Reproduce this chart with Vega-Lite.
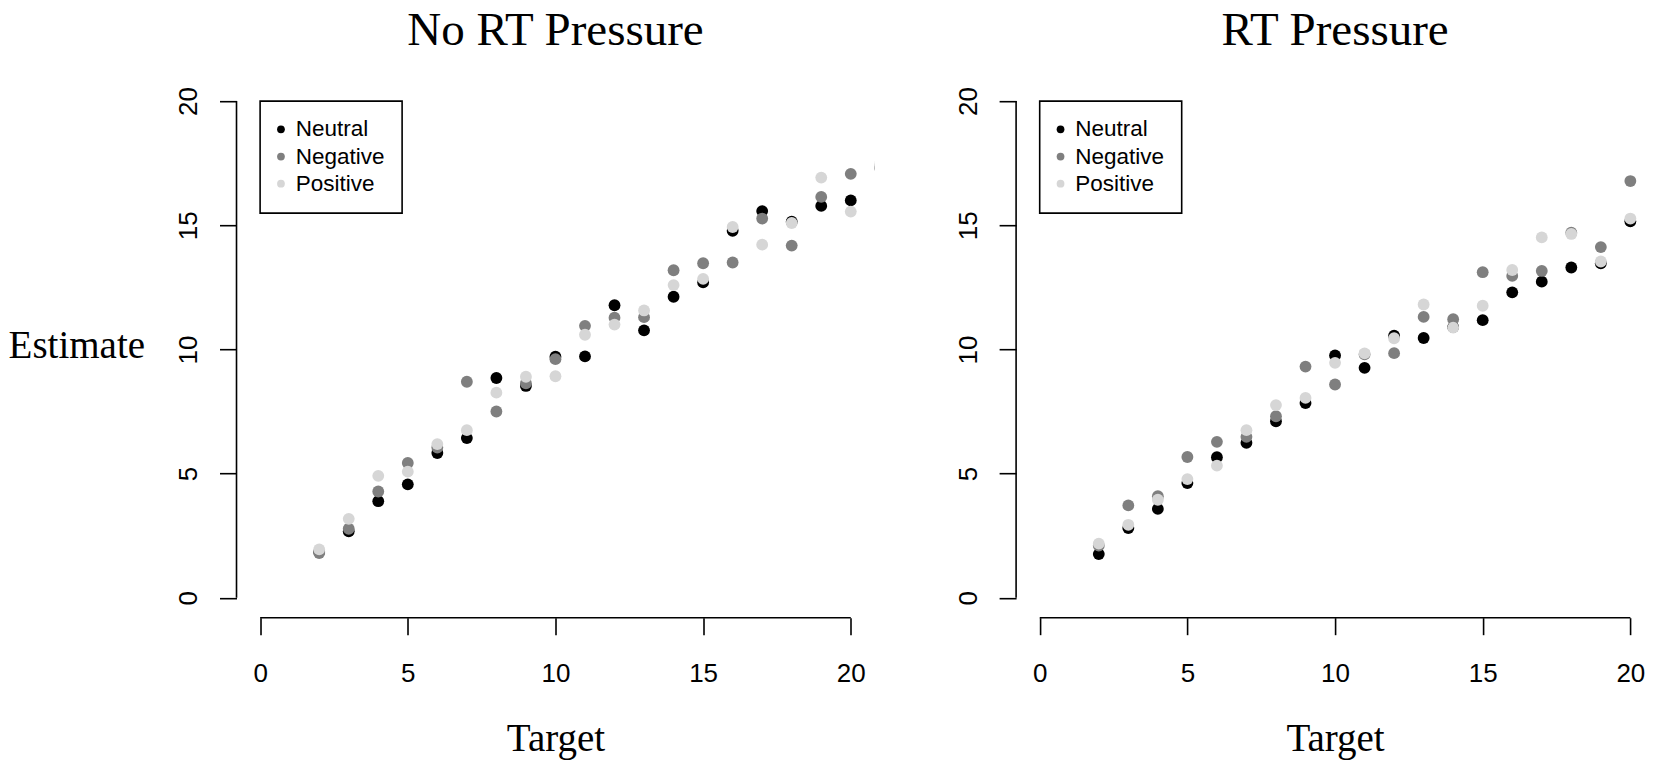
{
  "$schema": "https://vega.github.io/schema/vega-lite/v6.json",
  "padding": {"left": 7.5, "top": 6.2, "right": 0, "bottom": 2},
  "background": "white",
  "bounds": "flush",
  "spacing": 141.6,
  "datasets": {
    "pts": [
      {"panel":"No RT Pressure","cond":"Neutral","target":2,"estimate":1.85},
      {"panel":"No RT Pressure","cond":"Neutral","target":3,"estimate":2.68},
      {"panel":"No RT Pressure","cond":"Neutral","target":4,"estimate":3.89},
      {"panel":"No RT Pressure","cond":"Neutral","target":5,"estimate":4.57},
      {"panel":"No RT Pressure","cond":"Neutral","target":6,"estimate":5.83},
      {"panel":"No RT Pressure","cond":"Neutral","target":7,"estimate":6.43},
      {"panel":"No RT Pressure","cond":"Neutral","target":8,"estimate":8.85},
      {"panel":"No RT Pressure","cond":"Neutral","target":9,"estimate":8.53},
      {"panel":"No RT Pressure","cond":"Neutral","target":10,"estimate":9.71},
      {"panel":"No RT Pressure","cond":"Neutral","target":11,"estimate":9.72},
      {"panel":"No RT Pressure","cond":"Neutral","target":12,"estimate":11.78},
      {"panel":"No RT Pressure","cond":"Neutral","target":13,"estimate":10.77},
      {"panel":"No RT Pressure","cond":"Neutral","target":14,"estimate":12.12},
      {"panel":"No RT Pressure","cond":"Neutral","target":15,"estimate":12.7},
      {"panel":"No RT Pressure","cond":"Neutral","target":16,"estimate":14.78},
      {"panel":"No RT Pressure","cond":"Neutral","target":17,"estimate":15.57},
      {"panel":"No RT Pressure","cond":"Neutral","target":18,"estimate":15.14},
      {"panel":"No RT Pressure","cond":"Neutral","target":19,"estimate":15.78},
      {"panel":"No RT Pressure","cond":"Neutral","target":20,"estimate":16.0},
      {"panel":"No RT Pressure","cond":"Neutral","target":21,"estimate":17.3},
      {"panel":"No RT Pressure","cond":"Negative","target":2,"estimate":1.8},
      {"panel":"No RT Pressure","cond":"Negative","target":3,"estimate":2.78},
      {"panel":"No RT Pressure","cond":"Negative","target":4,"estimate":4.28},
      {"panel":"No RT Pressure","cond":"Negative","target":5,"estimate":5.43},
      {"panel":"No RT Pressure","cond":"Negative","target":6,"estimate":6.05},
      {"panel":"No RT Pressure","cond":"Negative","target":7,"estimate":8.7},
      {"panel":"No RT Pressure","cond":"Negative","target":8,"estimate":7.5},
      {"panel":"No RT Pressure","cond":"Negative","target":9,"estimate":8.64},
      {"panel":"No RT Pressure","cond":"Negative","target":10,"estimate":9.61},
      {"panel":"No RT Pressure","cond":"Negative","target":11,"estimate":10.95},
      {"panel":"No RT Pressure","cond":"Negative","target":12,"estimate":11.28},
      {"panel":"No RT Pressure","cond":"Negative","target":13,"estimate":11.3},
      {"panel":"No RT Pressure","cond":"Negative","target":14,"estimate":13.19},
      {"panel":"No RT Pressure","cond":"Negative","target":15,"estimate":13.47},
      {"panel":"No RT Pressure","cond":"Negative","target":16,"estimate":13.5},
      {"panel":"No RT Pressure","cond":"Negative","target":17,"estimate":15.27},
      {"panel":"No RT Pressure","cond":"Negative","target":18,"estimate":14.18},
      {"panel":"No RT Pressure","cond":"Negative","target":19,"estimate":16.14},
      {"panel":"No RT Pressure","cond":"Negative","target":20,"estimate":17.07},
      {"panel":"No RT Pressure","cond":"Negative","target":21,"estimate":17.4},
      {"panel":"No RT Pressure","cond":"Positive","target":2,"estimate":1.95},
      {"panel":"No RT Pressure","cond":"Positive","target":3,"estimate":3.18},
      {"panel":"No RT Pressure","cond":"Positive","target":4,"estimate":4.91},
      {"panel":"No RT Pressure","cond":"Positive","target":5,"estimate":5.08},
      {"panel":"No RT Pressure","cond":"Positive","target":6,"estimate":6.19},
      {"panel":"No RT Pressure","cond":"Positive","target":7,"estimate":6.75},
      {"panel":"No RT Pressure","cond":"Positive","target":8,"estimate":8.26},
      {"panel":"No RT Pressure","cond":"Positive","target":9,"estimate":8.9},
      {"panel":"No RT Pressure","cond":"Positive","target":10,"estimate":8.92},
      {"panel":"No RT Pressure","cond":"Positive","target":11,"estimate":10.59},
      {"panel":"No RT Pressure","cond":"Positive","target":12,"estimate":11.0},
      {"panel":"No RT Pressure","cond":"Positive","target":13,"estimate":11.57},
      {"panel":"No RT Pressure","cond":"Positive","target":14,"estimate":12.59},
      {"panel":"No RT Pressure","cond":"Positive","target":15,"estimate":12.84},
      {"panel":"No RT Pressure","cond":"Positive","target":16,"estimate":14.93},
      {"panel":"No RT Pressure","cond":"Positive","target":17,"estimate":14.22},
      {"panel":"No RT Pressure","cond":"Positive","target":18,"estimate":15.09},
      {"panel":"No RT Pressure","cond":"Positive","target":19,"estimate":16.92},
      {"panel":"No RT Pressure","cond":"Positive","target":20,"estimate":15.55},
      {"panel":"No RT Pressure","cond":"Positive","target":21,"estimate":17.5},
      {"panel":"RT Pressure","cond":"Neutral","target":2,"estimate":1.76},
      {"panel":"RT Pressure","cond":"Neutral","target":3,"estimate":2.81},
      {"panel":"RT Pressure","cond":"Neutral","target":4,"estimate":3.58},
      {"panel":"RT Pressure","cond":"Neutral","target":5,"estimate":4.62},
      {"panel":"RT Pressure","cond":"Neutral","target":6,"estimate":5.66},
      {"panel":"RT Pressure","cond":"Neutral","target":7,"estimate":6.24},
      {"panel":"RT Pressure","cond":"Neutral","target":8,"estimate":7.11},
      {"panel":"RT Pressure","cond":"Neutral","target":9,"estimate":7.84},
      {"panel":"RT Pressure","cond":"Neutral","target":10,"estimate":9.76},
      {"panel":"RT Pressure","cond":"Neutral","target":11,"estimate":9.26},
      {"panel":"RT Pressure","cond":"Neutral","target":12,"estimate":10.55},
      {"panel":"RT Pressure","cond":"Neutral","target":13,"estimate":10.46},
      {"panel":"RT Pressure","cond":"Neutral","target":14,"estimate":10.9},
      {"panel":"RT Pressure","cond":"Neutral","target":15,"estimate":11.18},
      {"panel":"RT Pressure","cond":"Neutral","target":16,"estimate":12.3},
      {"panel":"RT Pressure","cond":"Neutral","target":17,"estimate":12.73},
      {"panel":"RT Pressure","cond":"Neutral","target":18,"estimate":13.3},
      {"panel":"RT Pressure","cond":"Neutral","target":19,"estimate":13.47},
      {"panel":"RT Pressure","cond":"Neutral","target":20,"estimate":15.16},
      {"panel":"RT Pressure","cond":"Neutral","target":21,"estimate":15.0},
      {"panel":"RT Pressure","cond":"Negative","target":2,"estimate":2.1},
      {"panel":"RT Pressure","cond":"Negative","target":3,"estimate":3.72},
      {"panel":"RT Pressure","cond":"Negative","target":4,"estimate":4.09},
      {"panel":"RT Pressure","cond":"Negative","target":5,"estimate":5.67},
      {"panel":"RT Pressure","cond":"Negative","target":6,"estimate":6.28},
      {"panel":"RT Pressure","cond":"Negative","target":7,"estimate":6.48},
      {"panel":"RT Pressure","cond":"Negative","target":8,"estimate":7.31},
      {"panel":"RT Pressure","cond":"Negative","target":9,"estimate":9.31},
      {"panel":"RT Pressure","cond":"Negative","target":10,"estimate":8.59},
      {"panel":"RT Pressure","cond":"Negative","target":11,"estimate":9.8},
      {"panel":"RT Pressure","cond":"Negative","target":12,"estimate":9.85},
      {"panel":"RT Pressure","cond":"Negative","target":13,"estimate":11.31},
      {"panel":"RT Pressure","cond":"Negative","target":14,"estimate":11.22},
      {"panel":"RT Pressure","cond":"Negative","target":15,"estimate":13.11},
      {"panel":"RT Pressure","cond":"Negative","target":16,"estimate":12.96},
      {"panel":"RT Pressure","cond":"Negative","target":17,"estimate":13.16},
      {"panel":"RT Pressure","cond":"Negative","target":18,"estimate":14.7},
      {"panel":"RT Pressure","cond":"Negative","target":19,"estimate":14.12},
      {"panel":"RT Pressure","cond":"Negative","target":20,"estimate":16.78},
      {"panel":"RT Pressure","cond":"Negative","target":21,"estimate":16.26},
      {"panel":"RT Pressure","cond":"Positive","target":2,"estimate":2.18},
      {"panel":"RT Pressure","cond":"Positive","target":3,"estimate":2.94},
      {"panel":"RT Pressure","cond":"Positive","target":4,"estimate":3.95},
      {"panel":"RT Pressure","cond":"Positive","target":5,"estimate":4.78},
      {"panel":"RT Pressure","cond":"Positive","target":6,"estimate":5.32},
      {"panel":"RT Pressure","cond":"Positive","target":7,"estimate":6.75},
      {"panel":"RT Pressure","cond":"Positive","target":8,"estimate":7.76},
      {"panel":"RT Pressure","cond":"Positive","target":9,"estimate":8.05},
      {"panel":"RT Pressure","cond":"Positive","target":10,"estimate":9.46},
      {"panel":"RT Pressure","cond":"Positive","target":11,"estimate":9.84},
      {"panel":"RT Pressure","cond":"Positive","target":12,"estimate":10.45},
      {"panel":"RT Pressure","cond":"Positive","target":13,"estimate":11.81},
      {"panel":"RT Pressure","cond":"Positive","target":14,"estimate":10.88},
      {"panel":"RT Pressure","cond":"Positive","target":15,"estimate":11.76},
      {"panel":"RT Pressure","cond":"Positive","target":16,"estimate":13.2},
      {"panel":"RT Pressure","cond":"Positive","target":17,"estimate":14.51},
      {"panel":"RT Pressure","cond":"Positive","target":18,"estimate":14.65},
      {"panel":"RT Pressure","cond":"Positive","target":19,"estimate":13.54},
      {"panel":"RT Pressure","cond":"Positive","target":20,"estimate":15.27},
      {"panel":"RT Pressure","cond":"Positive","target":21,"estimate":15.46}
    ],
    "one": [{"k": 1}]
  },
  "resolve": {"legend": {"color": "independent"}},
  "hconcat": [
    {
      "width": 637.9,
      "height": 536.5,
      "title": {"text": "No RT Pressure"},
      "layer": [
        {
          "data": {"name": "pts"},
          "transform": [{"filter": "datum.panel === 'No RT Pressure'"}],
          "mark": {"type": "point", "filled": true, "opacity": 1, "size": 140, "clip": true, "strokeWidth": 0},
          "encoding": {
            "x": {"field": "target", "type": "quantitative", "scale": {"domain": [-0.8, 20.8], "nice": false, "zero": false},
                  "axis": {"values": [0, 5, 10, 15, 20], "title": "Target", "labelPadding": 25.5, "labelFlush": false, "labelOverlap": false, "labelAngle": 0, "titleY": 132.4, "titleBaseline": "alphabetic"}},
            "y": {"field": "estimate", "type": "quantitative", "scale": {"domain": [-0.8, 20.8], "nice": false, "zero": false},
                  "axis": {"values": [0, 5, 10, 15, 20], "title": "Estimate", "labelAngle": 270, "labelAlign": "center", "labelBaseline": "bottom", "labelPadding": 18, "labelFlush": false, "labelOverlap": false, "titleAngle": 0, "titleX": -228.4, "titleY": 276.7, "titleAlign": "left", "titleBaseline": "alphabetic"}},
            "color": {"field": "cond", "type": "nominal", "sort": ["Neutral", "Negative", "Positive"],
                      "scale": {"domain": ["Neutral", "Negative", "Positive"], "range": ["#000000", "#7f7f7f", "#d6d6d6"]},
                      "legend": {"orient": "none", "legendX": 23.6, "legendY": 19.9}}
          }
        },
        {
          "data": {"name": "one"},
          "mark": {"type": "rule", "color": "black", "strokeWidth": 1.6},
          "encoding": {
            "x": {"datum": 0, "type": "quantitative"},
            "x2": {"datum": 20},
            "y": {"datum": -0.8, "type": "quantitative"}
          }
        },
        {
          "data": {"name": "one"},
          "mark": {"type": "rule", "color": "black", "strokeWidth": 1.6},
          "encoding": {
            "y": {"datum": 0, "type": "quantitative"},
            "y2": {"datum": 20},
            "x": {"datum": -0.8, "type": "quantitative"}
          }
        }
      ]
    },
    {
      "width": 637.9,
      "height": 536.5,
      "title": {"text": "RT Pressure"},
      "layer": [
        {
          "data": {"name": "pts"},
          "transform": [{"filter": "datum.panel === 'RT Pressure'"}],
          "mark": {"type": "point", "filled": true, "opacity": 1, "size": 140, "clip": true, "strokeWidth": 0},
          "encoding": {
            "x": {"field": "target", "type": "quantitative", "scale": {"domain": [-0.8, 20.8], "nice": false, "zero": false},
                  "axis": {"values": [0, 5, 10, 15, 20], "title": "Target", "labelPadding": 25.5, "labelFlush": false, "labelOverlap": false, "labelAngle": 0, "titleY": 132.4, "titleBaseline": "alphabetic"}},
            "y": {"field": "estimate", "type": "quantitative", "scale": {"domain": [-0.8, 20.8], "nice": false, "zero": false},
                  "axis": {"values": [0, 5, 10, 15, 20], "title": null, "labelAngle": 270, "labelAlign": "center", "labelBaseline": "bottom", "labelPadding": 18, "labelFlush": false, "labelOverlap": false}},
            "color": {"field": "cond", "type": "nominal", "sort": ["Neutral", "Negative", "Positive"],
                      "scale": {"domain": ["Neutral", "Negative", "Positive"], "range": ["#000000", "#7f7f7f", "#d6d6d6"]},
                      "legend": {"orient": "none", "legendX": 23.6, "legendY": 19.9}}
          }
        },
        {
          "data": {"name": "one"},
          "mark": {"type": "rule", "color": "black", "strokeWidth": 1.6},
          "encoding": {
            "x": {"datum": 0, "type": "quantitative"},
            "x2": {"datum": 20},
            "y": {"datum": -0.8, "type": "quantitative"}
          }
        },
        {
          "data": {"name": "one"},
          "mark": {"type": "rule", "color": "black", "strokeWidth": 1.6},
          "encoding": {
            "y": {"datum": 0, "type": "quantitative"},
            "y2": {"datum": 20},
            "x": {"datum": -0.8, "type": "quantitative"}
          }
        }
      ]
    }
  ],
  "config": {
    "view": {"stroke": null},
    "axis": {
      "grid": false, "domain": false,
      "tickColor": "black", "tickWidth": 1.6, "tickSize": 17,
      "labelFont": "Liberation Sans", "labelFontSize": 26, "labelColor": "black",
      "titleFont": "Liberation Serif", "titleFontSize": 39, "titleFontWeight": "normal", "titleColor": "black"
    },
    "title": {"font": "Liberation Serif", "fontSize": 47, "fontWeight": "normal", "color": "black", "anchor": "middle", "frame": "group", "baseline": "bottom", "offset": 26.1},
    "legend": {
      "title": null, "strokeColor": "black", "strokeWidth": 1.6, "fillColor": "white",
      "padding": 17, "symbolType": "circle", "symbolSize": 60, "symbolStrokeWidth": 0, "symbolOpacity": 1, "symbolOffset": -7.4,
      "labelFont": "Liberation Sans", "labelFontSize": 22.5, "labelColor": "black", "rowPadding": 4.2, "labelOffset": 3.5
    }
  }
}
